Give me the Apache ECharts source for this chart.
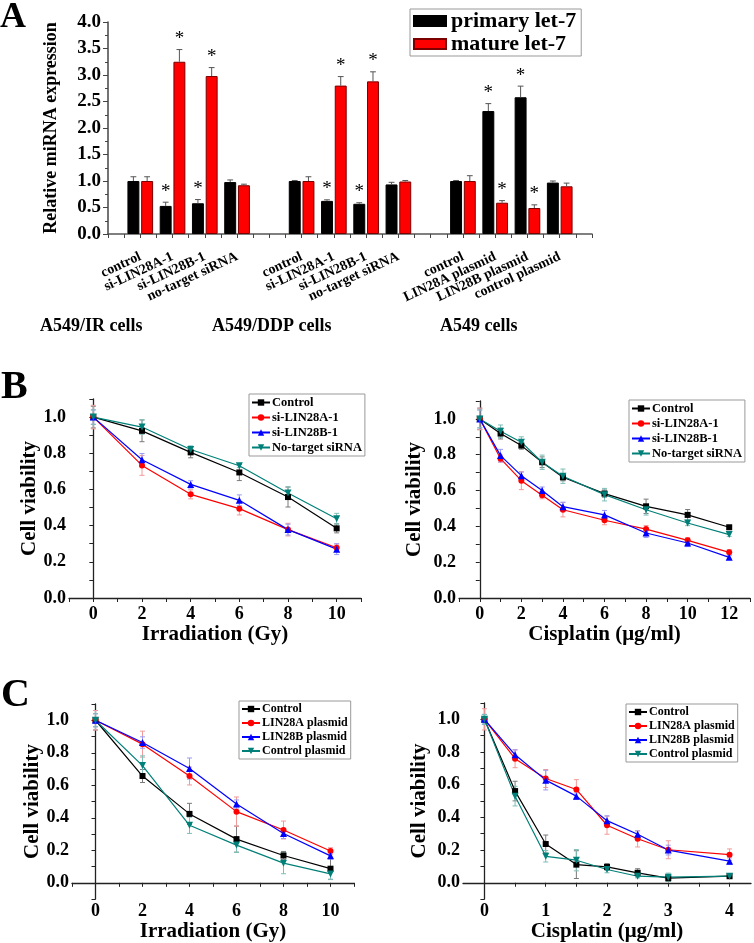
<!DOCTYPE html>
<html><head><meta charset="utf-8">
<script src="https://cdn.jsdelivr.net/npm/echarts@6/dist/echarts.min.js"></script>
<style>html,body{margin:0;padding:0;background:#fff}#c{width:754px;height:943px}</style>
</head><body><div id="c"></div>
<script>
// ---------- Panel A data ----------
const aCategories = ['', 'control', 'si-LIN28A-1', 'si-LIN28B-1', 'no-target siRNA', '',
  'control', 'si-LIN28A-1', 'si-LIN28B-1', 'no-target siRNA', '',
  'control', 'LIN28A plasmid', 'LIN28B plasmid', 'control plasmid', ''];
const aPrimary    = [null, 1.00, 0.53, 0.58, 0.98, null, 1.00, 0.625, 0.57, 0.935, null, 1.00, 2.32, 2.58, 0.97, null];
const aPrimaryErr = [null, 0.08, 0.07, 0.07, 0.04, null, 0.01, 0.02, 0.02, 0.04, null, 0.01, 0.14, 0.21, 0.03, null];
const aPrimarySig = [0, 0, 1, 1, 0, 0, 0, 1, 1, 0, 0, 0, 1, 1, 0, 0];
const aMature     = [null, 1.00, 3.25, 2.98, 0.92, null, 1.00, 2.80, 2.88, 0.99, null, 1.00, 0.59, 0.49, 0.90, null];
const aMatureErr  = [null, 0.08, 0.23, 0.16, 0.02, null, 0.08, 0.17, 0.18, 0.02, null, 0.10, 0.04, 0.06, 0.06, null];
const aMatureSig  = [0, 0, 1, 1, 0, 0, 0, 1, 1, 0, 0, 0, 1, 1, 0, 0];
const aGroups = ['A549/IR cells', 'A549/DDP cells', 'A549 cells'];
const aSeriesNames = ['primary let-7', 'mature let-7'];

// ---------- Panel B left (irradiation, siRNA) ----------
const bIrrDose = [0, 2, 4, 6, 8, 10];
const bIrrControl = [1.00, 0.924, 0.805, 0.694, 0.558, 0.385];
const bIrrControlErr = [0.06, 0.06, 0.03, 0.045, 0.055, 0.025];
const bIrrSiA = [1.00, 0.733, 0.573, 0.494, 0.378, 0.278];
const bIrrSiAErr = [0.065, 0.055, 0.025, 0.035, 0.035, 0.02];
const bIrrSiB = [1.00, 0.764, 0.628, 0.540, 0.378, 0.270];
const bIrrSiBErr = [0.04, 0.035, 0.02, 0.03, 0.03, 0.03];
const bIrrNT = [1.00, 0.945, 0.821, 0.731, 0.580, 0.438];
const bIrrNTErr = [0.04, 0.04, 0.02, 0.01, 0.035, 0.03];

// ---------- Panel B right (cisplatin, siRNA) ----------
const bCisDose = [0, 1, 2, 3, 4, 6, 8, 10, 12];
const bCisControl = [1.00, 0.918, 0.851, 0.758, 0.674, 0.583, 0.512, 0.464, 0.395];
const bCisControlErr = [0.06, 0.03, 0.02, 0.03, 0.02, 0.02, 0.04, 0.03, 0.01];
const bCisSiA = [1.00, 0.778, 0.655, 0.574, 0.493, 0.434, 0.385, 0.322, 0.255];
const bCisSiAErr = [0.06, 0.02, 0.05, 0.02, 0.04, 0.025, 0.02, 0.015, 0.015];
const bCisSiB = [1.00, 0.795, 0.683, 0.600, 0.510, 0.464, 0.363, 0.307, 0.227];
const bCisSiBErr = [0.05, 0.035, 0.02, 0.02, 0.025, 0.025, 0.025, 0.02, 0.01];
const bCisNT = [1.00, 0.931, 0.870, 0.758, 0.680, 0.577, 0.493, 0.419, 0.354];
const bCisNTErr = [0.05, 0.035, 0.03, 0.04, 0.04, 0.035, 0.03, 0.015, 0.01];

// ---------- Panel C left (irradiation, plasmid) ----------
const cIrrDose = [0, 2, 4, 6, 8, 10];
const cIrrControl = [1.00, 0.657, 0.424, 0.269, 0.168, 0.087];
const cIrrControlErr = [0.06, 0.04, 0.065, 0.08, 0.025, 0.065];
const cIrrL28A = [1.00, 0.853, 0.657, 0.438, 0.325, 0.196];
const cIrrL28AErr = [0.06, 0.08, 0.055, 0.09, 0.055, 0.02];
const cIrrL28B = [1.00, 0.863, 0.703, 0.485, 0.303, 0.166];
const cIrrL28BErr = [0.04, 0.035, 0.065, 0.025, 0.03, 0.02];
const cIrrCP = [1.00, 0.721, 0.354, 0.232, 0.121, 0.055];
const cIrrCPErr = [0.04, 0.06, 0.05, 0.045, 0.065, 0.035];

// ---------- Panel C right (cisplatin, plasmid) ----------
const cCisDose = [0, 0.5, 1, 1.5, 2, 2.5, 3, 4];
const cCisControl = [1.00, 0.561, 0.237, 0.111, 0.097, 0.061, 0.028, 0.040];
const cCisControlErr = [0.03, 0.06, 0.055, 0.085, 0.02, 0.025, 0.02, 0.01];
const cCisL28A = [1.00, 0.759, 0.638, 0.571, 0.352, 0.269, 0.202, 0.172];
const cCisL28AErr = [0.065, 0.055, 0.055, 0.06, 0.055, 0.05, 0.055, 0.035];
const cCisL28B = [1.00, 0.783, 0.628, 0.530, 0.380, 0.297, 0.200, 0.132];
const cCisL28BErr = [0.03, 0.03, 0.06, 0.02, 0.03, 0.02, 0.03, 0.02];
const cCisCP = [1.00, 0.530, 0.162, 0.138, 0.081, 0.040, 0.034, 0.040];
const cCisCPErr = [0.03, 0.06, 0.035, 0.065, 0.02, 0.01, 0.025, 0.01];

const siNames = ['Control', 'si-LIN28A-1', 'si-LIN28B-1', 'No-target siRNA'];
const plNames = ['Control', 'LIN28A plasmid', 'LIN28B plasmid', 'Control plasmid'];
const yTickLabels = [0, 0.2, 0.4, 0.6, 0.8, 1.0];
const yMinorTicks = [0, 0.1, 0.2, 0.3, 0.4, 0.5, 0.6, 0.7, 0.8, 0.9, 1.0, 1.1];
const yMinorTicksC = [-0.1, 0, 0.1, 0.2, 0.3, 0.4, 0.5, 0.6, 0.7, 0.8, 0.9, 1.0, 1.1];
const irrTickLabels = [0, 2, 4, 6, 8, 10];
const irrTicks = [-1, 0, 1, 2, 3, 4, 5, 6, 7, 8, 9, 10, 11];
const cisBTickLabels = [0, 2, 4, 6, 8, 10, 12];
const cisBTicks = [-1, 0, 1, 2, 3, 4, 5, 6, 7, 8, 9, 10, 11, 12, 13];
const cisCTickLabels = [0, 1, 2, 3, 4];
const cisCTicks = [0, 0.5, 1, 1.5, 2, 2.5, 3, 3.5, 4];

// ---------- styles ----------
const FONT = '"Liberation Serif","Times New Roman",Times,serif';
const COLORS = ['#000000', '#ff0000', '#0000ff', '#008078'];
const ERR_COLORS = ['#7a7a7a', '#f29a9a', '#9a9af5', '#7fbdb7'];
const SYMBOLS = ['rect', 'circle', 'triangle', 'triangle'];
const SYM_ROT = [0, 0, 0, 180];
const SYM_SIZE = [6, 6, 7, 7];
const BAR_RATIO = 0.37, GAP_RATIO = 0.15;

const chart = echarts.init(document.getElementById('c'), null, {renderer: 'canvas'});

function txt(size, extra) {
  return Object.assign({fontFamily: FONT, fontWeight: 'bold', fontSize: size, color: '#000'}, extra || {});
}

function barErrorSeries(values, errs, sigs, sign, color) {
  const data = [];
  values.forEach((v, i) => { if (v != null) data.push([i, v, errs[i], sigs[i]]); });
  return {
    type: 'custom', xAxisIndex: 0, yAxisIndex: 0, z: 5, silent: true, data,
    renderItem(params, api) {
      const i = api.value(0), v = api.value(1), e = api.value(2), s = api.value(3);
      const band = api.size([1, 0])[0];
      const off = sign * band * BAR_RATIO * (1 + GAP_RATIO) / 2;
      const base = api.coord([i, v]);
      const top = api.coord([i, v + e]);
      const x = base[0] + off;
      const cw = band * 0.09;
      const ch = [
        {type: 'line', shape: {x1: x, y1: base[1], x2: x, y2: top[1]}, style: {stroke: color, lineWidth: 1}},
        {type: 'line', shape: {x1: x - cw, y1: top[1], x2: x + cw, y2: top[1]}, style: {stroke: color, lineWidth: 1}}
      ];
      if (s) ch.push({type: 'text', style: {text: '*', x: x, y: top[1] - 1, align: 'center', verticalAlign: 'bottom', font: '19px ' + FONT, fill: '#000'}});
      return {type: 'group', children: ch};
    }
  };
}

function lineErrSeries(xs, ys, errs, color, xi, yi) {
  return {
    type: 'custom', xAxisIndex: xi, yAxisIndex: yi, z: 2, silent: true,
    data: xs.map((x, i) => [x, ys[i], errs[i]]),
    renderItem(params, api) {
      const x = api.value(0), y = api.value(1), e = api.value(2);
      const p1 = api.coord([x, y + e]), p2 = api.coord([x, y - e]);
      const w = 2.5;
      const st = {stroke: color, lineWidth: 1};
      return {type: 'group', children: [
        {type: 'line', shape: {x1: p1[0], y1: p1[1], x2: p2[0], y2: p2[1]}, style: st},
        {type: 'line', shape: {x1: p1[0] - w, y1: p1[1], x2: p1[0] + w, y2: p1[1]}, style: st},
        {type: 'line', shape: {x1: p2[0] - w, y1: p2[1], x2: p2[0] + w, y2: p2[1]}, style: st}
      ]};
    }
  };
}

function linePanel(names, xs, ysList, errList, xi, yi) {
  const out = [];
  names.forEach((n, k) => {
    out.push(lineErrSeries(xs, ysList[k], errList[k], ERR_COLORS[k], xi, yi));
    out.push({
      type: 'line', name: n, xAxisIndex: xi, yAxisIndex: yi, z: 3,
      data: xs.map((x, i) => [x, ysList[k][i]]),
      symbol: SYMBOLS[k], symbolSize: SYM_SIZE[k], symbolRotate: SYM_ROT[k],
      itemStyle: {color: COLORS[k]}, lineStyle: {color: COLORS[k], width: 1.2}
    });
  });
  return out;
}

const axLine = {show: true, lineStyle: {color: '#222', width: 1.3}};
const fmt1 = v => (Math.round(v * 10) / 10).toFixed(1);

function valueX(gi, min, max, labels, ticks, name, gap, margin) {
  return {
    type: 'value', gridIndex: gi, min, max, name, nameLocation: 'middle', nameGap: gap,
    nameTextStyle: txt(21),
    axisLine: axLine, splitLine: {show: false},
    axisTick: {show: true, length: 4, customValues: ticks, lineStyle: {color: '#222'}},
    axisLabel: Object.assign(txt(18), {customValues: labels, margin: margin, formatter: v => String(v)})
  };
}
function valueY(gi, min, ticks, gap) {
  return {
    type: 'value', gridIndex: gi, min, max: 1.1, name: 'Cell viability', nameLocation: 'middle', nameGap: gap,
    nameTextStyle: txt(21),
    axisLine: axLine, splitLine: {show: false},
    axisTick: {show: true, length: 4, customValues: ticks, lineStyle: {color: '#222'}},
    axisLabel: Object.assign(txt(18), {customValues: yTickLabels, margin: 3, formatter: fmt1})
  };
}
function lineLegend(names, left, top, size) {
  return {
    data: names, left, top, orient: 'vertical', itemGap: 2, itemWidth: 18, itemHeight: 8,
    padding: [2, 3, 2, 2], borderColor: '#999', borderWidth: 1, backgroundColor: '#fff',
    textStyle: txt(size, {padding: [0, 0, 0, -3]}), selectedMode: false
  };
}

const option = {
  animation: false,
  backgroundColor: '#fff',
  grid: [
    {left: 108, top: 22, width: 484, height: 212},
    {left: 69, top: 399, width: 292, height: 199},
    {left: 459, top: 401, width: 291, height: 197},
    {left: 72, top: 704, width: 282, height: 199},
    {left: 463, top: 703, width: 288, height: 198}
  ],
  xAxis: [
    {
      type: 'category', gridIndex: 0, data: aCategories, boundaryGap: false,
      axisLine: {show: true, lineStyle: {color: '#555', width: 1.5}},
      axisTick: {show: false},
      axisLabel: Object.assign(txt(14), {rotate: 25, interval: 0, margin: 22})
    },
    {
      type: 'value', gridIndex: 0, min: 0, max: 15, interval: 0.5, position: 'bottom',
      axisLine: {show: false}, splitLine: {show: false}, axisLabel: {show: false},
      axisTick: {show: true, length: 4, lineStyle: {color: '#444'}}
    },
    valueX(1, -1, 11, irrTickLabels, irrTicks, 'Irradiation (Gy)', 21, 7),
    valueX(2, -1, 13, cisBTickLabels, cisBTicks, 'Cisplatin (μg/ml)', 21, 7),
    valueX(3, -1, 11, irrTickLabels, irrTicks, 'Irradiation (Gy)', 16, 3),
    valueX(4, -0.35, 4.35, cisCTickLabels, cisCTicks, 'Cisplatin (μg/ml)', 16, 3)
  ],
  yAxis: [
    {
      type: 'value', gridIndex: 0, min: 0, max: 4, interval: 0.5,
      name: 'Relative miRNA expression', nameLocation: 'middle', nameGap: 48,
      nameTextStyle: txt(18),
      axisLine: {show: true, lineStyle: {color: '#444', width: 1.5}},
      splitLine: {show: false},
      axisTick: {show: true, length: 5, lineStyle: {color: '#444'}},
      minorTick: {show: true, splitNumber: 2, length: 3, lineStyle: {color: '#444'}},
      axisLabel: Object.assign(txt(19), {margin: 7, formatter: fmt1})
    },
    valueY(1, 0, yMinorTicks, 26),
    valueY(2, 0, yMinorTicks, 34),
    valueY(3, -0.1, yMinorTicksC, 29),
    valueY(4, -0.1, yMinorTicksC, 33)
  ],
  legend: [
    {
      data: aSeriesNames, left: 410, top: 9, orient: 'vertical', itemGap: 1, itemWidth: 32, itemHeight: 10,
      icon: 'rect', padding: [1, 5, 1, 3], borderColor: '#999', borderWidth: 1, selectedMode: false,
      textStyle: txt(22)
    },
    lineLegend(siNames, 249, 394, 12.5),
    lineLegend(siNames, 629, 400, 12.5),
    lineLegend(plNames, 239, 701, 12),
    lineLegend(plNames, 626, 704, 12)
  ],
  graphic: [
    {type: 'text', left: 0, top: 0, style: {text: 'A', font: 'bold 36px ' + FONT, fill: '#000'}},
    {type: 'text', left: 1, top: 368, style: {text: 'B', font: 'bold 40px ' + FONT, fill: '#000'}},
    {type: 'text', left: 1, top: 676, style: {text: 'C', font: 'bold 40px ' + FONT, fill: '#000'}},
    {type: 'text', left: 40, top: 317, style: {text: aGroups[0], font: 'bold 18px ' + FONT, fill: '#000'}},
    {type: 'text', left: 212, top: 317, style: {text: aGroups[1], font: 'bold 18px ' + FONT, fill: '#000'}},
    {type: 'text', left: 440, top: 317, style: {text: aGroups[2], font: 'bold 18px ' + FONT, fill: '#000'}}
  ],
  series: [
    {
      type: 'bar', name: aSeriesNames[0], xAxisIndex: 0, yAxisIndex: 0, data: aPrimary,
      barWidth: (BAR_RATIO * 100) + '%', barGap: (GAP_RATIO * 100) + '%',
      itemStyle: {color: '#000', borderColor: '#000', borderWidth: 1}
    },
    {
      type: 'bar', name: aSeriesNames[1], xAxisIndex: 0, yAxisIndex: 0, data: aMature,
      barWidth: (BAR_RATIO * 100) + '%', barGap: (GAP_RATIO * 100) + '%',
      itemStyle: {color: '#ff0000', borderColor: '#7a0000', borderWidth: 1}
    },
    barErrorSeries(aPrimary, aPrimaryErr, aPrimarySig, -1, '#555'),
    barErrorSeries(aMature, aMatureErr, aMatureSig, 1, '#555')
  ]
    .concat(linePanel(siNames, bIrrDose, [bIrrControl, bIrrSiA, bIrrSiB, bIrrNT], [bIrrControlErr, bIrrSiAErr, bIrrSiBErr, bIrrNTErr], 2, 1))
    .concat(linePanel(siNames, bCisDose, [bCisControl, bCisSiA, bCisSiB, bCisNT], [bCisControlErr, bCisSiAErr, bCisSiBErr, bCisNTErr], 3, 2))
    .concat(linePanel(plNames, cIrrDose, [cIrrControl, cIrrL28A, cIrrL28B, cIrrCP], [cIrrControlErr, cIrrL28AErr, cIrrL28BErr, cIrrCPErr], 4, 3))
    .concat(linePanel(plNames, cCisDose, [cCisControl, cCisL28A, cCisL28B, cCisCP], [cCisControlErr, cCisL28AErr, cCisL28BErr, cCisCPErr], 5, 4))
};
chart.setOption(option);
</script></body></html>
